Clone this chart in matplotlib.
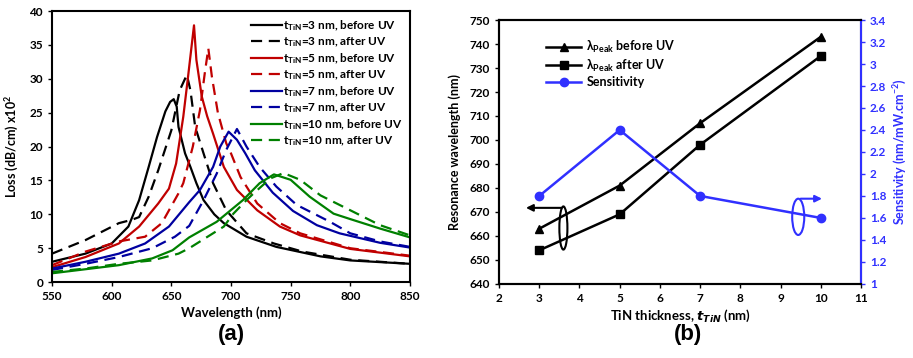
import matplotlib.pyplot as plt
from matplotlib.patches import Ellipse

plt.rcParams['font.family'] = ['Lato', 'DejaVu Sans']
plt.rcParams['font.weight'] = 'bold'
plt.rcParams['axes.labelweight'] = 'bold'
plt.rcParams['mathtext.default'] = 'regular'

# (a) loss spectra
wl_3b = [550, 578, 600, 614, 623, 631, 638, 645, 649, 652, 654.5, 656, 661.5, 666, 671, 677, 686, 694, 713, 738, 775, 800, 850]
loss_3b = [3.0, 4.2, 5.7, 8.2, 12.1, 17.0, 21.4, 25.2, 26.6, 27.0, 25.9, 22.9, 19.0, 17.0, 14.6, 12.1, 10.0, 8.7, 6.7, 5.2, 3.8, 3.2, 2.7]
wl_3a = [550, 578, 606, 617, 623, 631, 639, 650, 657, 663, 666, 670, 677, 685, 696, 713, 736, 760, 800, 850]
loss_3a = [4.2, 6.2, 8.7, 9.2, 9.6, 12.6, 16.5, 22.4, 28.3, 30.6, 28.3, 22.9, 19.0, 14.6, 10.6, 7.2, 5.7, 4.5, 3.3, 2.7]
wl_5b = [550, 578, 606, 623, 639, 648, 654, 660, 664, 669, 671, 675.5, 680, 685, 694, 705, 722, 741, 758, 800, 850]
loss_5b = [2.2, 3.7, 5.7, 8.2, 11.6, 13.8, 17.5, 24.4, 30.3, 37.9, 32.8, 27.4, 24.5, 21.9, 17.0, 13.6, 10.6, 8.2, 6.9, 4.9, 3.8]
wl_5a = [550, 578, 606, 628, 642, 656, 660, 668, 674, 678, 681, 684, 689, 696, 700, 708, 722, 741, 758, 800, 850]
loss_5a = [2.5, 4.5, 6.0, 6.7, 8.7, 13.1, 14.6, 20.0, 25.4, 30.8, 34.5, 30.3, 25.0, 20.5, 19.0, 15.5, 11.6, 8.7, 7.2, 5.0, 3.9]
wl_7b = [550, 578, 606, 628, 648, 665, 674, 685, 691, 698, 705, 712, 720, 735, 752, 772, 791, 825, 850]
loss_7b = [2.0, 3.0, 4.2, 5.7, 8.2, 11.8, 13.6, 17.0, 20.0, 22.2, 21.0, 19.0, 16.5, 13.2, 10.5, 8.4, 7.2, 5.8, 5.1]
wl_7a = [550, 578, 606, 634, 653, 665, 677, 688, 696, 705, 713, 724, 738, 755, 783, 800, 825, 850]
loss_7a = [1.8, 2.7, 3.7, 5.0, 6.7, 8.3, 12.1, 16.0, 19.5, 22.6, 20.0, 17.0, 14.1, 11.4, 8.9, 7.2, 6.0, 5.2]
wl_10b = [550, 578, 606, 634, 651, 665, 688, 710, 724, 736, 750, 766, 786, 800, 825, 850]
loss_10b = [1.3, 1.9, 2.5, 3.5, 4.7, 6.6, 8.9, 12.1, 14.6, 15.9, 15.1, 12.6, 10.1, 9.3, 7.9, 6.6]
wl_10a = [550, 578, 606, 634, 656, 665, 694, 702, 713, 719, 733, 744, 758, 775, 800, 825, 850]
loss_10a = [1.5, 2.0, 2.7, 3.2, 4.2, 5.0, 8.2, 10.1, 12.1, 13.1, 15.3, 16.1, 15.1, 12.8, 10.6, 8.4, 6.9]

# (b) peak wavelength and sensitivity vs TiN thickness
thickness = [3, 5, 7, 10]
peak_before = [663, 681, 707, 743]
peak_after = [654, 669, 698, 735]
sensitivity = [1.8, 2.4, 1.8, 1.6]

BLUE = '#3030ff'

fig = plt.figure(figsize=(9.13, 3.58), dpi=100)
ax1 = fig.add_axes([0.057, 0.212, 0.392, 0.757])
ax2 = fig.add_axes([0.5466, 0.207, 0.3964, 0.737])

curves = [
    (wl_3b, loss_3b, 'black', '-', '3'), (wl_3a, loss_3a, 'black', '--', '3'),
    (wl_5b, loss_5b, '#c00000', '-', '5'), (wl_5a, loss_5a, '#c00000', '--', '5'),
    (wl_7b, loss_7b, '#0000a0', '-', '7'), (wl_7a, loss_7a, '#0000a0', '--', '7'),
    (wl_10b, loss_10b, '#008000', '-', '10'), (wl_10a, loss_10a, '#008000', '--', '10'),
]
for wl, loss, c, ls, t in curves:
    when = 'before UV' if ls == '-' else 'after UV'
    line, = ax1.plot(wl, loss, color=c, lw=1.6, solid_joinstyle='round',
                     label=f't$_{{TiN}}$={t} nm, {when}')
    if ls == '--':
        line.set_dashes((5, 3))

ax1.set_xlim(550, 850)
ax1.set_ylim(0, 40)
ax1.set_xticks(range(550, 851, 50))
ax1.set_yticks(range(0, 41, 5))
ax1.set_xlabel('Wavelength (nm)', fontsize=9.5, labelpad=3)
ax1.set_ylabel('Loss (dB/cm) x10$^2$', fontsize=9, labelpad=6)
ax1.tick_params(labelsize=8.5, length=3, width=1)
for s in ax1.spines.values():
    s.set_linewidth(1.5)
ax1.legend(loc='upper right', frameon=False, fontsize=8.5, handlelength=2.6,
           handletextpad=0.1, labelspacing=0.2, borderaxespad=0.2)

ax2.plot(thickness, peak_before, color='black', marker='^', ms=6, lw=1.8, label=r'λ$_{Peak}$ before UV')
ax2.plot(thickness, peak_after, color='black', marker='s', ms=6, lw=1.8, label=r'λ$_{Peak}$ after UV')
ax2.set_xlim(2, 11)
ax2.set_ylim(640, 750)
ax2.set_xticks(range(2, 12))
ax2.set_yticks(range(640, 751, 10))
ax2.set_xlabel('TiN thickness, $\\it{t_{TiN}}$ (nm)', fontsize=9.5, labelpad=3)
ax2.set_ylabel('Resonance wavelength (nm)', fontsize=9, labelpad=6)
ax2.tick_params(labelsize=8.5, length=3, width=1)

ax3 = ax2.twinx()
ax3.plot(thickness, sensitivity, color=BLUE, marker='o', ms=6, lw=1.8, label='Sensitivity')
sens_ticks = [1, 1.2, 1.4, 1.6, 1.8, 2, 2.2, 2.4, 2.6, 2.8, 3, 3.2, 3.4]
ax3.set_ylim(1, 3.4)
ax3.set_yticks(sens_ticks)
ax3.set_yticklabels([f'{v:g}' for v in sens_ticks])
ax3.tick_params(labelsize=8.5, length=3, width=1, colors=BLUE)
ax3.set_ylabel('Sensitivity (nm/mW.cm$^{-2}$)', fontsize=9, color=BLUE, labelpad=4)
for s in list(ax2.spines.values()) + list(ax3.spines.values()):
    s.set_linewidth(1.5)
ax3.spines['right'].set_color(BLUE)

h1, l1 = ax2.get_legend_handles_labels()
h3, l3 = ax3.get_legend_handles_labels()
ax2.legend(h1 + h3, l1 + l3, loc='upper left', bbox_to_anchor=(0.1, 0.97), frameon=False,
           fontsize=9, handlelength=2.8, handletextpad=0.4, labelspacing=0.2)

# ellipse + arrow pointing to the left axis
ax2.add_patch(Ellipse((3.6, 663.3), 0.2, 18, fill=False, ec='black', lw=1.5))
ax2.annotate('', xy=(2.6, 671.7), xytext=(3.62, 671.7),
             arrowprops=dict(arrowstyle='-|>', color='black', lw=1.5, mutation_scale=10))
# ellipse + arrow pointing to the right axis
ax3.add_patch(Ellipse((9.44, 1.61), 0.3, 0.33, fill=False, ec=BLUE, lw=1.5))
ax3.annotate('', xy=(10.1, 1.775), xytext=(9.43, 1.775),
             arrowprops=dict(arrowstyle='-|>', color=BLUE, lw=1.5, mutation_scale=10))

fig.text(0.254, 0.065, '(a)', fontsize=16, fontweight='bold', ha='center', va='center',
         family='Liberation Sans')
fig.text(0.754, 0.065, '(b)', fontsize=16, fontweight='bold', ha='center', va='center',
         family='Liberation Sans')

fig.savefig('out.png', dpi=100)
